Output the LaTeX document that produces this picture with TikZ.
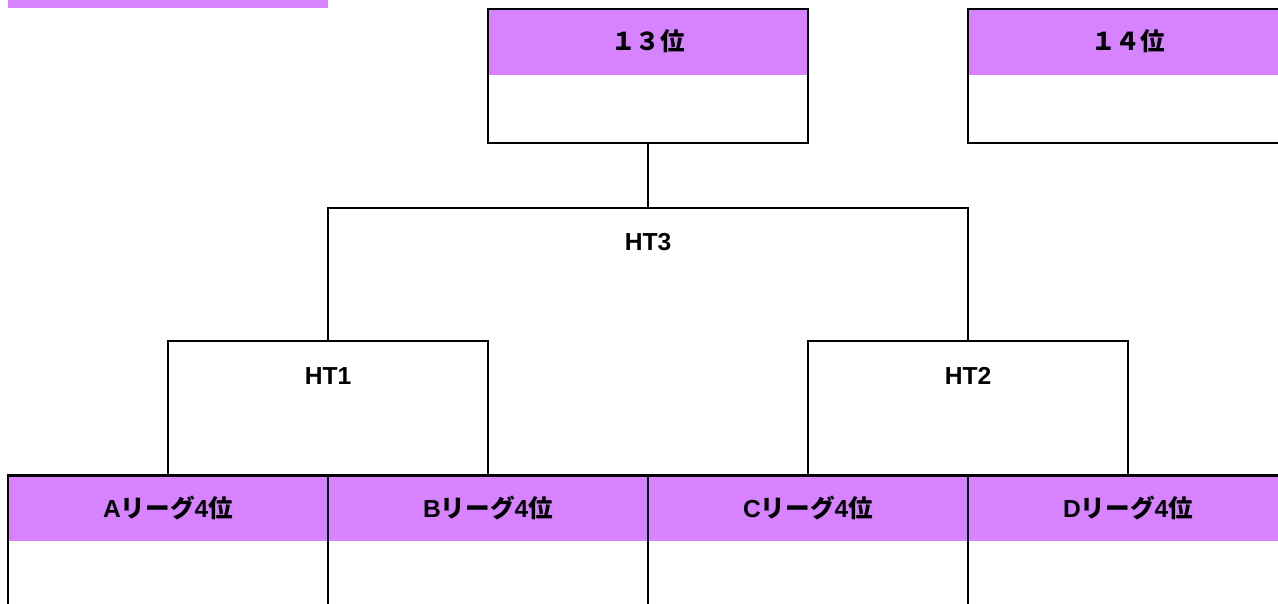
\documentclass[tikz,border=0pt]{standalone}
\usepackage{fontspec}
\setmainfont{Liberation Sans}
\newfontfamily\jp{Noto Sans CJK JP Bold}
\usepackage{tikz}
\usetikzlibrary{positioning}
\newcommand{\lgname}[1]{#1{\jp リーグ}4{\jp 位}}
\definecolor{slotpurple}{RGB}{215,131,255}

\begin{document}
\begin{tikzpicture}[
x=0.02cm,y=-0.02cm,
Head/.style={fill=slotpurple,minimum width=6.4cm,minimum height=1.34cm,inner sep=0pt,
  font=\fontsize{14}{16}\selectfont\bfseries},
Frame/.style={draw=black,line width=1.5pt,minimum width=6.4cm,minimum height=2.68cm,inner sep=0pt},
Link/.style={draw=black,line width=1.5pt},
Tag/.style={font=\fontsize{14}{16}\selectfont\bfseries,inner sep=0pt}
]
\useasboundingbox (0,0) rectangle (1278,604);
\clip (0,0) rectangle (1278,604);

% bar cut off at the top
\node[fill=slotpurple,minimum width=6.4cm,minimum height=0.34cm,inner sep=0pt] (bar) at (168,0) {};

% places 13 and 14
\node[Head] (h13) at (648,41.5) {{\jp １３位}};
\node[Frame,anchor=north] (b13) at (h13.north) {};
\node[Head] (h14) at (1128,41.5) {{\jp １４位}};
\node[Frame,anchor=north] (b14) at (h14.north) {};

% league slots
\node[Head] (hA) at (168,508) {\lgname{A}};
\node[Frame,anchor=north] (bA) at (hA.north) {};
\node[Head] (hB) at (488,508) {\lgname{B}};
\node[Frame,anchor=north] (bB) at (hB.north) {};
\node[Head] (hC) at (808,508) {\lgname{C}};
\node[Frame,anchor=north] (bC) at (hC.north) {};
\node[Head] (hD) at (1128,508) {\lgname{D}};
\node[Frame,anchor=north] (bD) at (hD.north) {};

\coordinate (ht1) at (328,341);
\coordinate (ht2) at (968,341);
\coordinate (ht3) at (648,208);

\draw[Link] (bA.north) |- (ht1) -| (bB.north);
\draw[Link] (bC.north) |- (ht2) -| (bD.north);
\draw[Link] (ht1) |- (ht3) -| (ht2);
\draw[Link] (b13.south) -- (ht3);

\node[Tag] (t1) at (328,376) {HT1};
\node[Tag] (t2) at (968,376) {HT2};
\node[Tag] (t3) at (648,242) {HT3};

\end{tikzpicture}
\end{document}
